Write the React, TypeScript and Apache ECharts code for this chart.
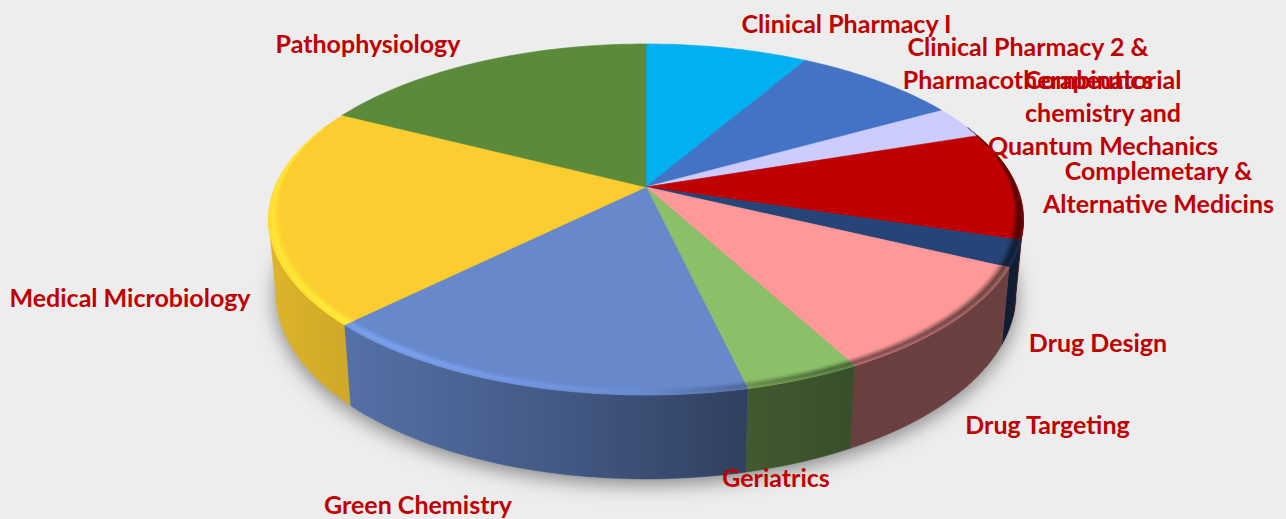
import React, { useEffect, useRef } from "react";
import * as echarts from "echarts";

const categories = [
  "Clinical Pharmacy I",
  "Clinical Pharmacy 2 &\nPharmacotherapeutics",
  "Combinatorial\nchemistry and\nQuantum Mechanics",
  "Complemetary &\nAlternative Medicins",
  "Drug Design",
  "Drug Targeting",
  "Geriatrics",
  "Green Chemistry",
  "Medical Microbiology",
  "Pathophysiology",
];
const shares = [8.3, 8.5, 3.0, 10.0, 2.4, 10.0, 4.2, 16.1, 20.1, 17.4];
const sliceColors = ["#00B0F0", "#4472C4", "#CCCCFF", "#C00000", "#264478", "#FF9999", "#8BBF68", "#6788CB", "#FBCD30", "#5B8A3A"];

// layout of the labels (centre of each text block)
const labelCentres = [
  [846.5, 23], [1028, 62.5], [1103, 112], [1158.5, 186], [1098, 342],
  [1047.5, 424], [776, 477], [418, 504], [130, 297], [368, 43],
];

// perspective projection of the pie disc
const XC = 646, YC = 187, A = 371, B = 169.5, K = 0.185;
// silhouette angles of the disc: the side wall is visible between them
const SIDE = (Math.acos(K) * 180) / Math.PI;
const WALL_FROM = 180 - SIDE, WALL_TO = 180 + SIDE;

const total = shares.reduce((a, b) => a + b, 0);
const starts: number[] = [];
shares.reduce((acc, v, i) => { starts[i] = (acc / total) * 360; return acc + v; }, 0);
const range = (i: number) => [starts[i], starts[i] + (shares[i] / total) * 360];

const top = (deg: number, r = 1) => {
  const t = (deg * Math.PI) / 180;
  const u = r * Math.sin(t), v = -r * Math.cos(t), w = 1 - K * v;
  return [XC + (A * u) / w, YC + (B * v) / w];
};
const bottom = (deg: number) => {
  const p = top(deg);
  const v = -Math.cos((deg * Math.PI) / 180);
  return [XC + (p[0] - XC) * 0.98, p[1] + 72 + 12 * v];
};
const steps = (a: number, b: number, size: number) => {
  const n = Math.max(2, Math.ceil((b - a) / size));
  const out: number[] = [];
  for (let i = 0; i <= n; i++) out.push(a + ((b - a) * i) / n);
  return out;
};
const arc = (a: number, b: number, f: (d: number) => number[]) => steps(a, b, 1.5).map((d) => f(d));

const rgb = (h: string) => [1, 3, 5].map((i) => parseInt(h.slice(i, i + 2), 16));
const scaleColor = (h: string, f: number, g = 1) => {
  const c = rgb(h).map((x) => Math.min(255, Math.round(x * (1 + (f - 1) * g))));
  return `rgb(${c[0]},${c[1]},${c[2]})`;
};
const X0 = 270, X1 = 1024;
const wallShade = [[270, 0.88], [350, 0.82], [550, 0.66], [745, 0.47], [850, 0.41], [1024, 0.42]];
const bevelShade = [[270, 1.12], [400, 1.2], [520, 1.12], [640, 1.03], [740, 0.75], [850, 0.5], [1024, 0.4]];
const gradient = (color: string, tbl: number[][], g = 1) => ({
  type: "linear", global: true, x: X0, y: 0, x2: X1, y2: 0,
  colorStops: tbl.map(([x, f]) => ({ offset: (x - X0) / (X1 - X0), color: scaleColor(color, f, g) })),
});

const BEVEL_FROM = 68, BEVEL_TO = 292, BEVEL_W = 0.03;
const bevelWeights = [0.15, 0.4, 0.7, 1, 0.9, 0.7];
const bevelR = (deg: number, k: number) => {
  const taper = Math.max(0, Math.min(1, (deg - BEVEL_FROM) / 35, (BEVEL_TO - deg) / 35));
  return 1 - BEVEL_W * taper * (1 - k / bevelWeights.length);
};

const renderWall = (params: any) => {
  const i = params.dataIndex;
  const [a, b] = range(i);
  const children: any[] = [];
  if (i === 0) {
    children.push({
      type: "polygon",
      shape: { points: arc(0, 360, bottom) },
      style: { fill: "#999999", shadowColor: "rgba(0,0,0,0.45)", shadowBlur: 20, shadowOffsetY: 5 },
    });
  }
  const from = Math.max(a, WALL_FROM), to = Math.min(b, WALL_TO);
  if (to > from) {
    const fill = gradient(sliceColors[i], wallShade);
    children.push({
      type: "polygon",
      shape: { points: [...arc(from, to, top), ...arc(from, to, bottom).reverse()] },
      style: { fill, stroke: fill, lineWidth: 0.5 },
    });
  }
  return { type: "group", children };
};

const renderTop = (params: any) => {
  const i = params.dataIndex;
  const [a, b] = range(i);
  const c = sliceColors[i];
  const children: any[] = [{
    type: "polygon",
    shape: { points: [[XC, YC], ...arc(a, b, top)] },
    style: { fill: c, stroke: c, lineWidth: 0.6 },
  }];
  const from = Math.max(a, BEVEL_FROM), to = Math.min(b, BEVEL_TO);
  if (to > from) {
    bevelWeights.forEach((g, k) => {
      const inner = arc(from, to, (d) => top(d, bevelR(d, k)));
      const outer = arc(from, to, (d) => top(d, bevelR(d, k + 1)));
      children.push({
        type: "polygon",
        shape: { points: [...outer, ...inner.reverse()] },
        style: { fill: gradient(c, bevelShade, g), stroke: gradient(c, bevelShade, g), lineWidth: 0.4 },
      });
    });
  }
  return { type: "group", children };
};

const renderLabel = (params: any) => {
  const i = params.dataIndex;
  return {
    type: "text",
    x: labelCentres[i][0],
    y: labelCentres[i][1],
    style: {
      text: categories[i],
      fill: "#C00000",
      font: 'bold 25px Lato, "Open Sans", sans-serif',
      align: "center",
      verticalAlign: "middle",
      lineHeight: 33,
    },
  };
};

export default function App() {
  const ref = useRef<HTMLDivElement>(null);
  useEffect(() => {
    document.body.style.margin = "0";
    const chart = echarts.init(ref.current!, undefined, { renderer: "svg" });
    const data = shares.map((v, i) => ({ name: categories[i], value: v }));
    chart.setOption({
      animation: false,
      backgroundColor: "#EDEDED",
      series: [
        { type: "custom", coordinateSystem: "none", renderItem: renderWall, data, z: 1, silent: true },
        { type: "custom", coordinateSystem: "none", renderItem: renderTop, data, z: 2, silent: true },
        { type: "custom", coordinateSystem: "none", renderItem: renderLabel, data, z: 3, silent: true },
      ],
    });
    return () => chart.dispose();
  }, []);
  return <div ref={ref} style={{ width: 1286, height: 519 }} />;
}
